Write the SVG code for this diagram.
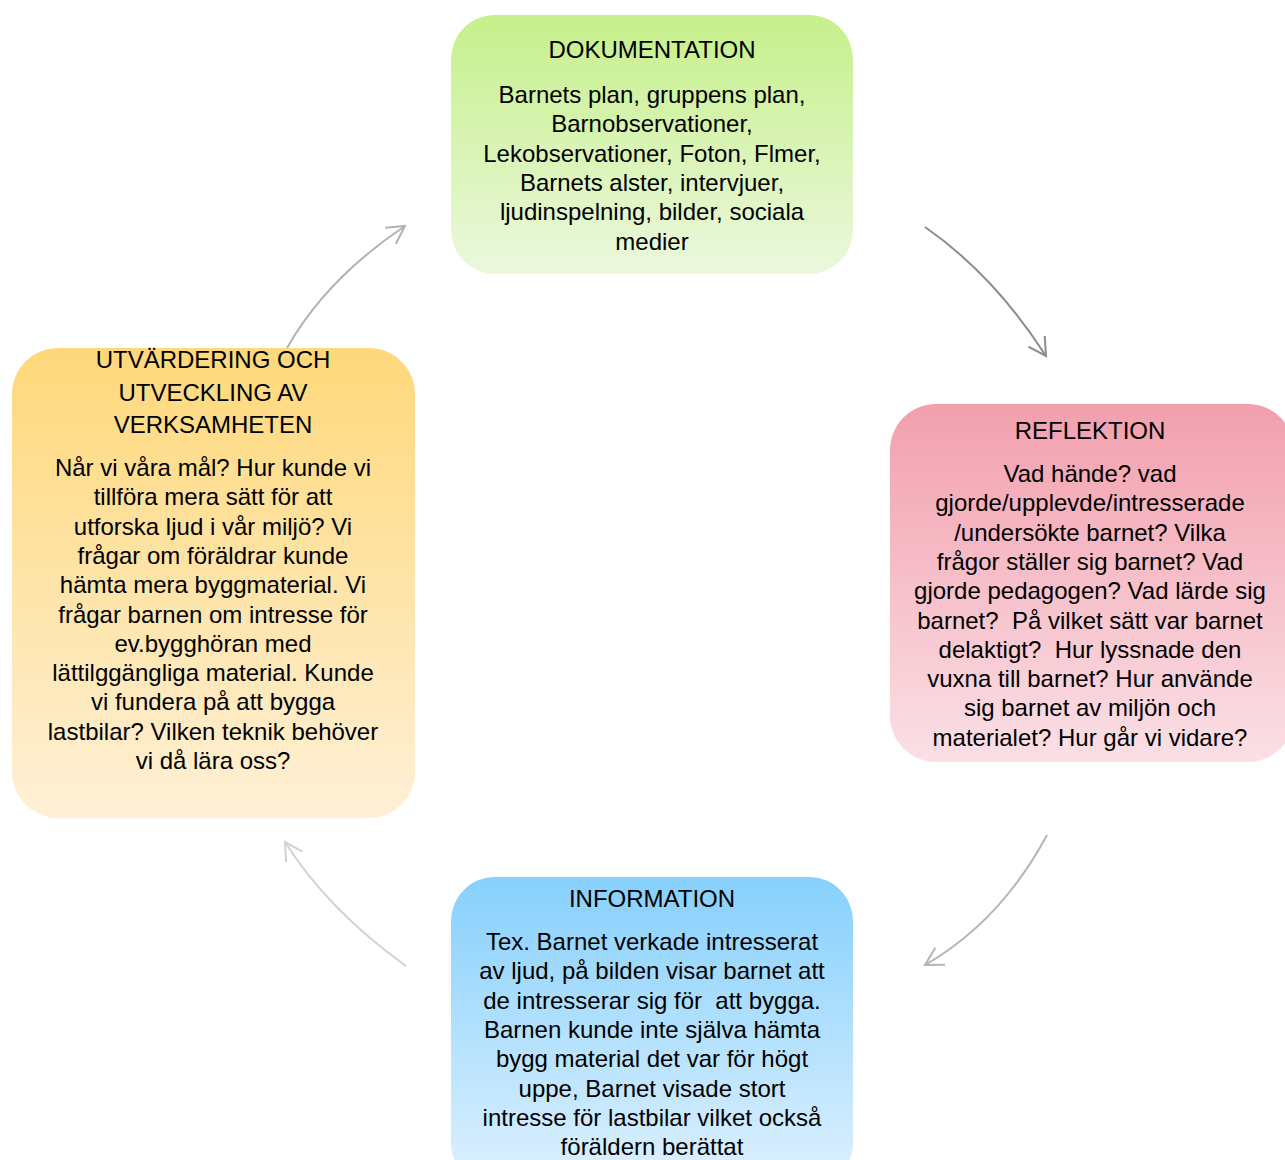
<svg xmlns="http://www.w3.org/2000/svg" width="1285" height="1160" viewBox="0 0 1285 1160">
<style>
text{font-family:"Liberation Sans",Arial,sans-serif;font-size:24px;fill:#000;text-anchor:middle}
.c{fill:none;stroke-width:2}
</style>
<defs>
<linearGradient id="gG" x1="0" y1="0" x2="0" y2="1"><stop offset="0" stop-color="#c6f08a"/><stop offset="1" stop-color="#ebf8dd"/></linearGradient>
<linearGradient id="gR" x1="0" y1="0" x2="0" y2="1"><stop offset="0" stop-color="#f29fad"/><stop offset="1" stop-color="#fbe0e6"/></linearGradient>
<linearGradient id="gB" x1="0" y1="0" x2="0" y2="1"><stop offset="0" stop-color="#86d0fc"/><stop offset="1" stop-color="#dff1ff"/></linearGradient>
<linearGradient id="gY" x1="0" y1="0" x2="0" y2="1"><stop offset="0" stop-color="#fed87a"/><stop offset="1" stop-color="#fff0d6"/></linearGradient>
<marker id="m1" viewBox="-20 -12 22 24" refX="0" refY="0" markerWidth="22" markerHeight="24" markerUnits="userSpaceOnUse" orient="auto"><path d="M-17.5,-9.7 L0,0 L-17.5,9.7" fill="none" stroke="#b2b2b2" stroke-width="2"/></marker>
<marker id="m2" viewBox="-20 -12 22 24" refX="0" refY="0" markerWidth="22" markerHeight="24" markerUnits="userSpaceOnUse" orient="auto"><path d="M-17.5,-9.7 L0,0 L-17.5,9.7" fill="none" stroke="#8c8c8c" stroke-width="2"/></marker>
<marker id="m3" viewBox="-20 -12 22 24" refX="0" refY="0" markerWidth="22" markerHeight="24" markerUnits="userSpaceOnUse" orient="auto"><path d="M-17.5,-9.7 L0,0 L-17.5,9.7" fill="none" stroke="#b5b5b5" stroke-width="2"/></marker>
<marker id="m4" viewBox="-20 -12 22 24" refX="0" refY="0" markerWidth="22" markerHeight="24" markerUnits="userSpaceOnUse" orient="auto"><path d="M-17.5,-9.7 L0,0 L-17.5,9.7" fill="none" stroke="#d2d2d2" stroke-width="2"/></marker>
</defs>
<rect width="1285" height="1160" fill="#fff"/>
<g id="connectors">
<path class="c" stroke="#b2b2b2" d="M287,348 Q326,279 405,226" marker-end="url(#m1)"/>
<path class="c" stroke="#8c8c8c" d="M925,227 Q994,275 1046,356" marker-end="url(#m2)"/>
<path class="c" stroke="#b5b5b5" d="M1047,835 Q1001,921 925,965" marker-end="url(#m3)"/>
<path class="c" stroke="#d2d2d2" d="M406,966 Q328,910 285,842" marker-end="url(#m4)"/>
</g>
<g id="dokumentation">
<rect x="451" y="15" width="402" height="259" rx="44" fill="url(#gG)"/>
<text x="652" y="58">DOKUMENTATION</text>
<text x="652" y="103">Barnets plan, gruppens plan,</text>
<text x="652" y="132.3">Barnobservationer,</text>
<text x="652" y="161.6">Lekobservationer, Foton, Flmer,</text>
<text x="652" y="190.9">Barnets alster, intervjuer,</text>
<text x="652" y="220.2">ljudinspelning, bilder, sociala</text>
<text x="652" y="249.5">medier</text>
</g>
<g id="reflektion">
<rect x="890" y="404" width="404" height="358" rx="46" fill="url(#gR)"/>
<text x="1090" y="438.5">REFLEKTION</text>
<text x="1090" y="482">Vad hände? vad</text>
<text x="1090" y="511.3">gjorde/upplevde/intresserade</text>
<text x="1090" y="540.6">/undersökte barnet? Vilka</text>
<text x="1090" y="570">frågor ställer sig barnet? Vad</text>
<text x="1090" y="599.2">gjorde pedagogen? Vad lärde sig</text>
<text x="1090" y="628.5" xml:space="preserve">barnet?  På vilket sätt var barnet</text>
<text x="1090" y="657.8" xml:space="preserve">delaktigt?  Hur lyssnade den</text>
<text x="1090" y="687">vuxna till barnet? Hur använde</text>
<text x="1090" y="716.4">sig barnet av miljön och</text>
<text x="1090" y="745.7">materialet? Hur går vi vidare?</text>
</g>
<g id="information">
<rect x="451" y="877" width="402" height="310" rx="44" fill="url(#gB)"/>
<text x="652" y="906.5">INFORMATION</text>
<text x="652" y="950">Tex. Barnet verkade intresserat</text>
<text x="652" y="979.3">av ljud, på bilden visar barnet att</text>
<text x="652" y="1008.6" xml:space="preserve">de intresserar sig för  att bygga.</text>
<text x="652" y="1038">Barnen kunde inte själva hämta</text>
<text x="652" y="1067.2">bygg material det var för högt</text>
<text x="652" y="1096.5">uppe, Barnet visade stort</text>
<text x="652" y="1125.8">intresse för lastbilar vilket också</text>
<text x="652" y="1155">föräldern berättat</text>
</g>
<g id="utvardering">
<rect x="12" y="348" width="403" height="470" rx="46" fill="url(#gY)"/>
<text x="213" y="368.3">UTVÄRDERING OCH</text>
<text x="213" y="400.7">UTVECKLING AV</text>
<text x="213" y="433.3">VERKSAMHETEN</text>
<text x="213" y="476">Når vi våra mål? Hur kunde vi</text>
<text x="213" y="505.3">tillföra mera sätt för att</text>
<text x="213" y="534.6">utforska ljud i vår miljö? Vi</text>
<text x="213" y="564">frågar om föräldrar kunde</text>
<text x="213" y="593.2">hämta mera byggmaterial. Vi</text>
<text x="213" y="622.5">frågar barnen om intresse för</text>
<text x="213" y="651.8">ev.bygghöran med</text>
<text x="213" y="681">lättilggängliga material. Kunde</text>
<text x="213" y="710.4">vi fundera på att bygga</text>
<text x="213" y="739.7">lastbilar? Vilken teknik behöver</text>
<text x="213" y="769">vi då lära oss?</text>
</g>
</svg>
